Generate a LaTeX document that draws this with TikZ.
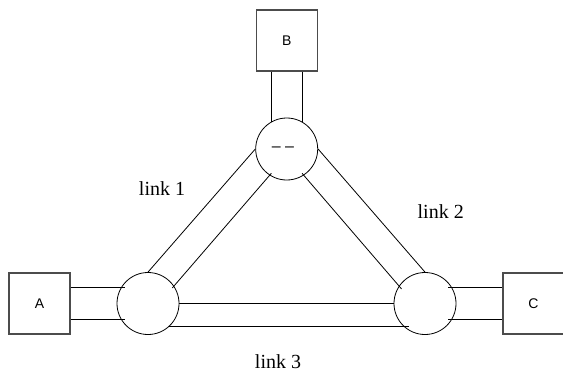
\documentclass[tikz,border=0pt]{standalone}
\usepackage{fontspec}
\setmainfont{Liberation Serif}
\setsansfont{Liberation Sans}
\usetikzlibrary{positioning}
\tikzstyle{hostnode} = [draw=black!70, line width=0.9pt, rectangle, minimum size=45.75pt, inner sep=0pt, font=\sffamily\fontsize{10.5}{12}\selectfont]
\tikzstyle{swnode} = [draw, circle, minimum size=46.5pt, inner sep=0pt, font=\sffamily\fontsize{12}{14}\selectfont]
\tikzstyle{linklabel} = [anchor=base, font=\fontsize{15}{18}\selectfont]

\begin{document}
\begin{tikzpicture}[x=0.75pt, y=-0.75pt, line width=0.6pt, node distance=34.5pt]
  \useasboundingbox (0,0) rectangle (563,371);
  \node[swnode] (sl) at (148,303.5) {};
  \node[swnode] (sr) at (425,303.5) {};
  \node[swnode] (st) at (286.7,149) {– –\hspace*{5.5pt}};

  \node[hostnode, left=of sl] (A) {A};
  \node[hostnode, right=of sr] (C) {C};
  \node[hostnode, above=of st] (B) {B};

  % link 1
  \draw (sl.90) -- (st.180);
  \draw[shorten <=-2pt, shorten >=-2pt] (sl.34) -- (st.237);
  % link 2
  \draw (st.0) -- (sr.90);
  \draw[shorten <=-2pt, shorten >=-3pt] (st.-57) -- (sr.146);
  % link 3
  \draw (sl.0) -- (sr.180);
  \draw[shorten >=-4pt] (sl.-48) -- (sr.-132);

  % hosts
  \draw[shorten >=-3pt] (A.east |- sl.150) -- (sl.150);
  \draw[shorten >=-3pt] (A.east |- sl.210) -- (sl.210);
  \draw[shorten <=-3pt] (sr.30) -- (sr.30 -| C.west);
  \draw[shorten <=-3pt] (sr.-30) -- (sr.-30 -| C.west);
  \draw (B.south -| st.120) -- (st.120);
  \draw (B.south -| st.60) -- (st.60);

  \node[linklabel] (l1) at (162,195.7) {link 1};
  \node[linklabel] (l2) at (440.7,218.3) {link 2};
  \node[linklabel] (l3) at (278,368.5) {link 3};
\end{tikzpicture}
\end{document}
